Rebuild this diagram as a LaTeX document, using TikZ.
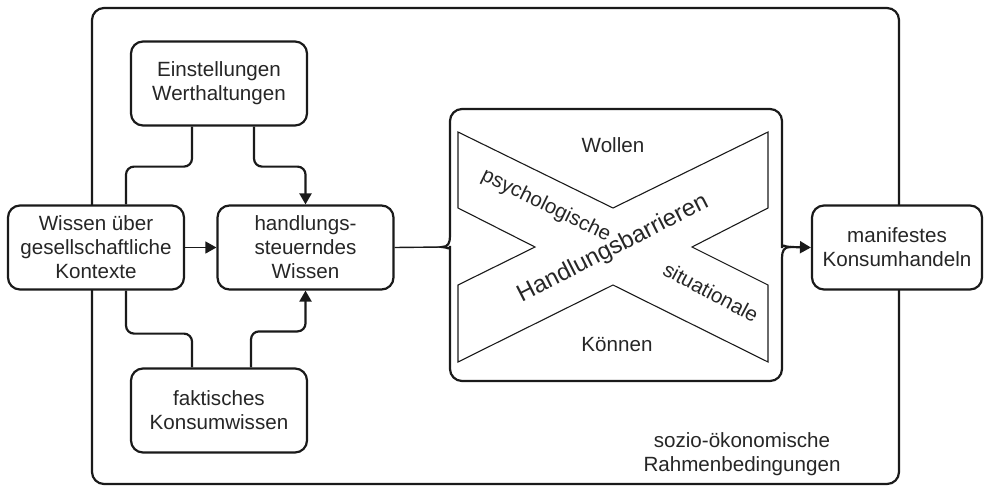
\documentclass[tikz,border=0pt]{standalone}
\usepackage{fontspec}
\setmainfont{Liberation Sans}
\usepackage{tikz}
\usetikzlibrary{arrows.meta,positioning,calc}
\definecolor{kink}{HTML}{1A1A1A}
\definecolor{ktext}{HTML}{262626}
\tikzset{
  box/.style={draw=kink,fill=white,rounded corners=6pt,line width=1.1pt,align=center,minimum width=88pt,minimum height=42pt,inner sep=2pt,text=ktext},
  frame/.style={draw=kink,line width=1.1pt},
  xline/.style={draw=kink,line width=0.55pt},
  conn/.style={draw=kink,line width=1.1pt,rounded corners=4pt},
  arr/.style={-{Triangle[length=5.5pt,width=6pt]},draw=kink,line width=1.1pt,rounded corners=4pt},
  thin/.style={draw=kink,line width=0.7pt},
  thinarr/.style={-{Triangle[length=5.5pt,width=6pt]},draw=kink,line width=0.7pt},
  lbl/.style={text=ktext,align=center,inner sep=0pt},
}

\begin{document}
\begin{tikzpicture}[x=0.5pt,y=-0.5pt,font=\fontsize{10.3}{12}\selectfont]
\useasboundingbox (0,0) rectangle (984,487);
\draw[frame,rounded corners=6pt] (92,8) rectangle (899,484);
\node[box] (ein) at (219,83.5) {Einstellungen\\Werthaltungen};
\node[box] (wis) at (96,247.5) {Wissen über\\gesellschaftliche\\Kontexte};
\node[box] (hand) at (305.5,247.5) {handlungs-\\steuerndes\\Wissen};
\node[box] (fak) at (219,410.5) {faktisches\\Konsumwissen};
\node[box,minimum width=85pt] (man) at (897,247.5) {manifestes\\Konsumhandeln};

\coordinate (lt) at (442,247);
\coordinate (rt) at (790,247);
\draw[frame] (lt) .. controls (448,247) and (450,243) .. (450,236)
  {[rounded corners=6pt] -- (450,109) -- (782,109) -- (782,236)}
  .. controls (782,243) and (784,247) .. (rt)
  .. controls (784,247) and (782,251) .. (782,258)
  {[rounded corners=6pt] -- (782,381) -- (450,381) -- (450,258)}
  .. controls (450,251) and (448,247) .. (lt) -- cycle;
\draw[xline] (458,132) -- (613,208) -- (768,132) -- (768,208) -- (692,247) -- (768,285)
  -- (768,362) -- (613,285) -- (458,362) -- (458,285) -- (535,247) -- (458,208) -- cycle;

\node[lbl] (wol) at (613,145) {Wollen};
\node[lbl] (kon) at (617,345) {Können};
\node[lbl,rotate=-26] (psy) at (546,206) {psychologische};
\node[lbl,rotate=27,font=\fontsize{12}{14}\selectfont] (hb) at (613,249) {Handlungsbarrieren};
\node[lbl,rotate=-28] (sit) at (711,292) {situationale};
\node[lbl] (soz) at (742,454) {sozio-ökonomische\\Rahmenbedingungen};

\draw[conn] ([xshift=-13.5pt]ein.south) -- ++(0,40) -| ([xshift=15pt]wis.north);
\draw[arr] ([xshift=17.5pt]ein.south) -- ++(0,40) -| (hand.north);
\draw[conn] ([xshift=15pt]wis.south) -- ++(0,43) -| ([xshift=-13.5pt]fak.north);
\draw[arr] ([xshift=16pt]fak.north) -- ++(0,-36) -| (hand.south);
\draw[thinarr] (wis) -- (hand);
\draw[thin] (hand.east) -- (lt);
\draw[arr] (rt) -- (man.west);
\end{tikzpicture}
\end{document}
